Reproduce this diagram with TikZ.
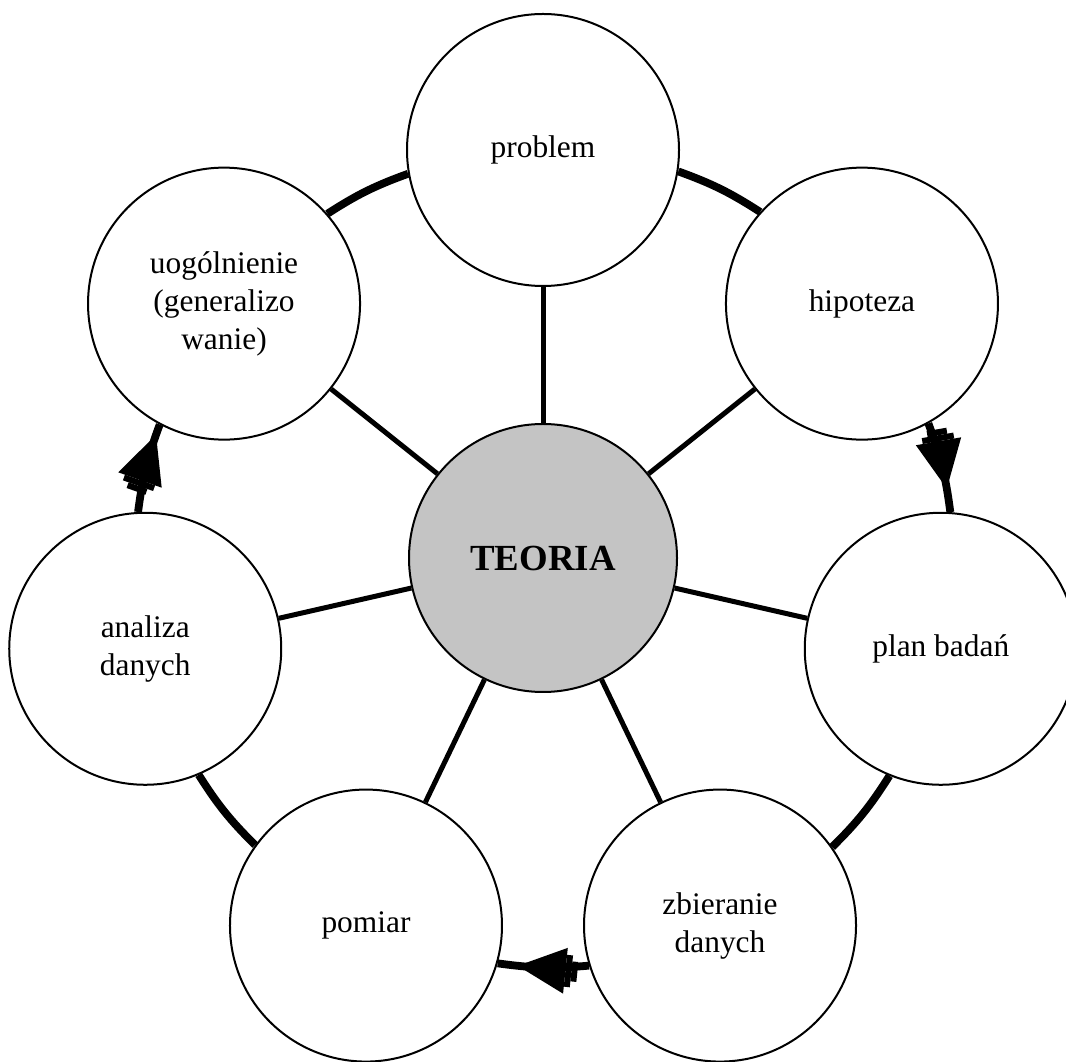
\documentclass[tikz,border=0pt]{standalone}
\usepackage{fontspec}
\setmainfont{Liberation Serif}
\usetikzlibrary{calc,arrows.meta,decorations.markings}

\definecolor{szary}{RGB}{196,196,196}

\tikzset{
  etap/.style={circle, draw, line width=1pt, fill=white, minimum size=136pt,
    inner sep=0pt, align=center, font=\fontsize{15.7}{19}\selectfont},
  srodek/.style={circle, draw, line width=1pt, fill=szary, minimum size=134pt,
    inner sep=0pt, font=\fontsize{18.4}{22}\selectfont\bfseries},
  promien/.style={line width=2.5pt},
  obwod/.style={line width=3.9pt, bend left=6.5},
  grot/.style={postaction={decorate, decoration={markings,
    mark=at position #1 with {\arrow{Rectangle[length=3pt,width=10pt,line width=0pt]
      Rectangle[length=3pt,width=16pt,line width=0pt]
      Triangle[length=24pt,width=23pt,line width=0pt]}}}}},
}

\begin{document}
\begin{tikzpicture}[x=0.5pt,y=0.5pt]
  \useasboundingbox (0,0) rectangle (1066,1061);
  \clip (0,0) rectangle (1066,1061);

  % srodek i etapy na okregu
  \node[srodek] (teoria) at (543,503) {TEORIA};
  \node[etap] (problem) at ($(teoria)+(90:408)$) {problem};
  \node[etap] (hipoteza) at ($(teoria)+(38.571:408)$) {hipoteza};
  \node[etap] (plan) at ($(teoria)+(-12.857:408)$) {plan badań};
  \node[etap] (zbieranie) at ($(teoria)+(-64.286:408)$) {zbieranie\\danych};
  \node[etap] (pomiar) at ($(teoria)+(-115.714:408)$) {pomiar};
  \node[etap] (analiza) at ($(teoria)+(-167.143:408)$) {analiza\\danych};
  \node[etap] (uogolnienie) at ($(teoria)+(141.429:408)$) {uogólnienie\\(generalizo\\wanie)};

  % promienie
  \draw[promien] (teoria) -- (problem);
  \draw[promien] (teoria) -- (hipoteza);
  \draw[promien] (teoria) -- (plan);
  \draw[promien] (teoria) -- (zbieranie);
  \draw[promien] (teoria) -- (pomiar);
  \draw[promien] (teoria) -- (analiza);
  \draw[promien] (teoria) -- (uogolnienie);

  % obwod
  \draw[obwod] (problem.-9.6) to (hipoteza.138.2);
  \draw[obwod, grot=0.74] (hipoteza.-61.03) to (plan.86.74);
  \draw[obwod] (plan.-112.46) to (zbieranie.35.31);
  \draw[obwod, grot=0.78] (zbieranie.-163.89) to (pomiar.-16.11);
  \draw[obwod] (pomiar.144.69) to (analiza.-67.54);
  \draw[obwod, grot=0.88] (analiza.93.26) to (uogolnienie.-118.97);
  \draw[obwod] (uogolnienie.41.83) to (problem.-170.4);
\end{tikzpicture}
\end{document}
